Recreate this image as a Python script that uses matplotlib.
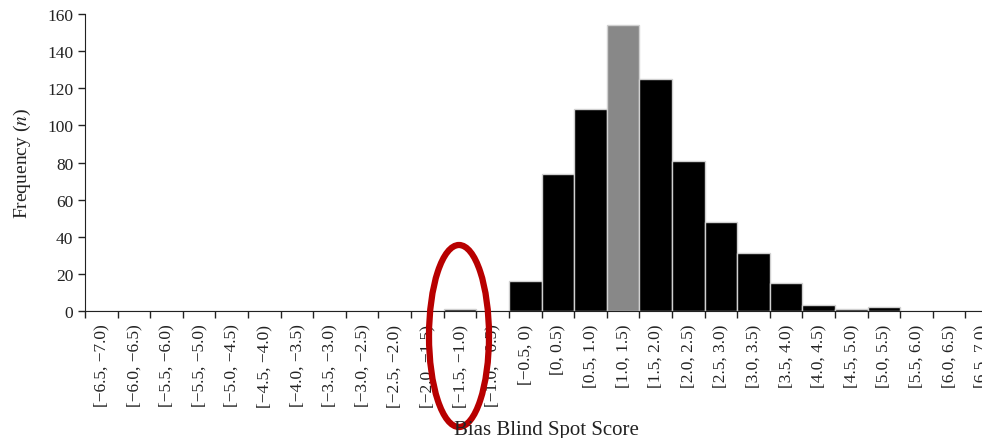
import matplotlib.pyplot as plt
from matplotlib.patches import Ellipse

plt.rcParams['font.family'] = ['Liberation Serif', 'DejaVu Serif']
plt.rcParams['mathtext.fontset'] = 'stix'

# bins of the bias blind spot score
bins = ['[−6.5, −7.0)', '[−6.0, −6.5)', '[−5.5, −6.0)', '[−5.5, −5.0)',
        '[−5.0, −4.5)', '[−4.5, −4.0)', '[−4.0, −3.5)', '[−3.5, −3.0)',
        '[−3.0, −2.5)', '[−2.5, −2.0)', '[−2.0, −1.5)', '[−1.5, −1.0)',
        '[−1.0, −0.5)', '[−0.5, 0)', '[0, 0.5)', '[0.5, 1.0)',
        '[1.0, 1.5)', '[1.5, 2.0)', '[2.0, 2.5)', '[2.5, 3.0)',
        '[3.0, 3.5)', '[3.5, 4.0)', '[4.0, 4.5)', '[4.5, 5.0)',
        '[5.0, 5.5)', '[5.5, 6.0)', '[6.0, 6.5)', '[6.5, 7.0)']
freq = [0, 0, 0, 0, 0, 0, 0, 0, 0, 0, 0, 1, 0, 16, 74, 109,
        154, 125, 81, 48, 31, 15, 3, 1, 2, 0, 0, 0]
highlight = '[1.0, 1.5)'

fig = plt.figure(figsize=(9.82, 4.39), dpi=100)
ax = fig.add_axes([85/982, 127/439, 913/982, 297/439])

x = list(range(len(bins)))
colors = ['#888888' if b == highlight else 'black' for b in bins]
ax.bar(x, freq, width=1.0, color=colors, edgecolor='#d0d0d0', linewidth=1.0)

ax.set_xlim(-0.5, len(bins) - 0.5)
ax.set_ylim(0, 160)
ax.set_yticks(range(0, 161, 20))
ax.tick_params(axis='y', labelsize=12.5, direction='out', length=5, width=1,
               colors='#222222')

# ticks at bin edges, labels at centres
ax.set_xticks([i - 0.5 for i in range(len(bins) + 1)])
ax.set_xticklabels([])
ax.set_xticks(x, minor=True)
ax.set_xticklabels(bins, minor=True, rotation=90, fontsize=12.5, color='#222222')
ax.tick_params(axis='x', which='major', direction='out', length=5, width=1,
               color='#222222')
ax.tick_params(axis='x', which='minor', length=0, pad=9)

ax.spines['top'].set_visible(False)
ax.spines['right'].set_visible(False)
ax.spines['left'].set_color('#222222')
ax.spines['bottom'].set_color('#222222')

ax.set_ylabel('Frequency ($n$)', fontsize=14, color='#222222')
ax.yaxis.set_label_coords(-0.057, 0.5)
fig.text(546/982, 1 - 435/439, 'Bias Blind Spot Score', ha='center', va='baseline',
         fontsize=15, color='#222222')

# red ellipse marking the [-1.5, -1.0) bin
over = fig.add_axes([0, 0, 1, 1])
over.set_xlim(0, 982)
over.set_ylim(439, 0)
over.axis('off')
over.patch.set_alpha(0)
over.add_patch(Ellipse((459, 337), 60, 182, fill=False, edgecolor='#b80000', linewidth=4.5))

plt.savefig('out.png', dpi=100)
